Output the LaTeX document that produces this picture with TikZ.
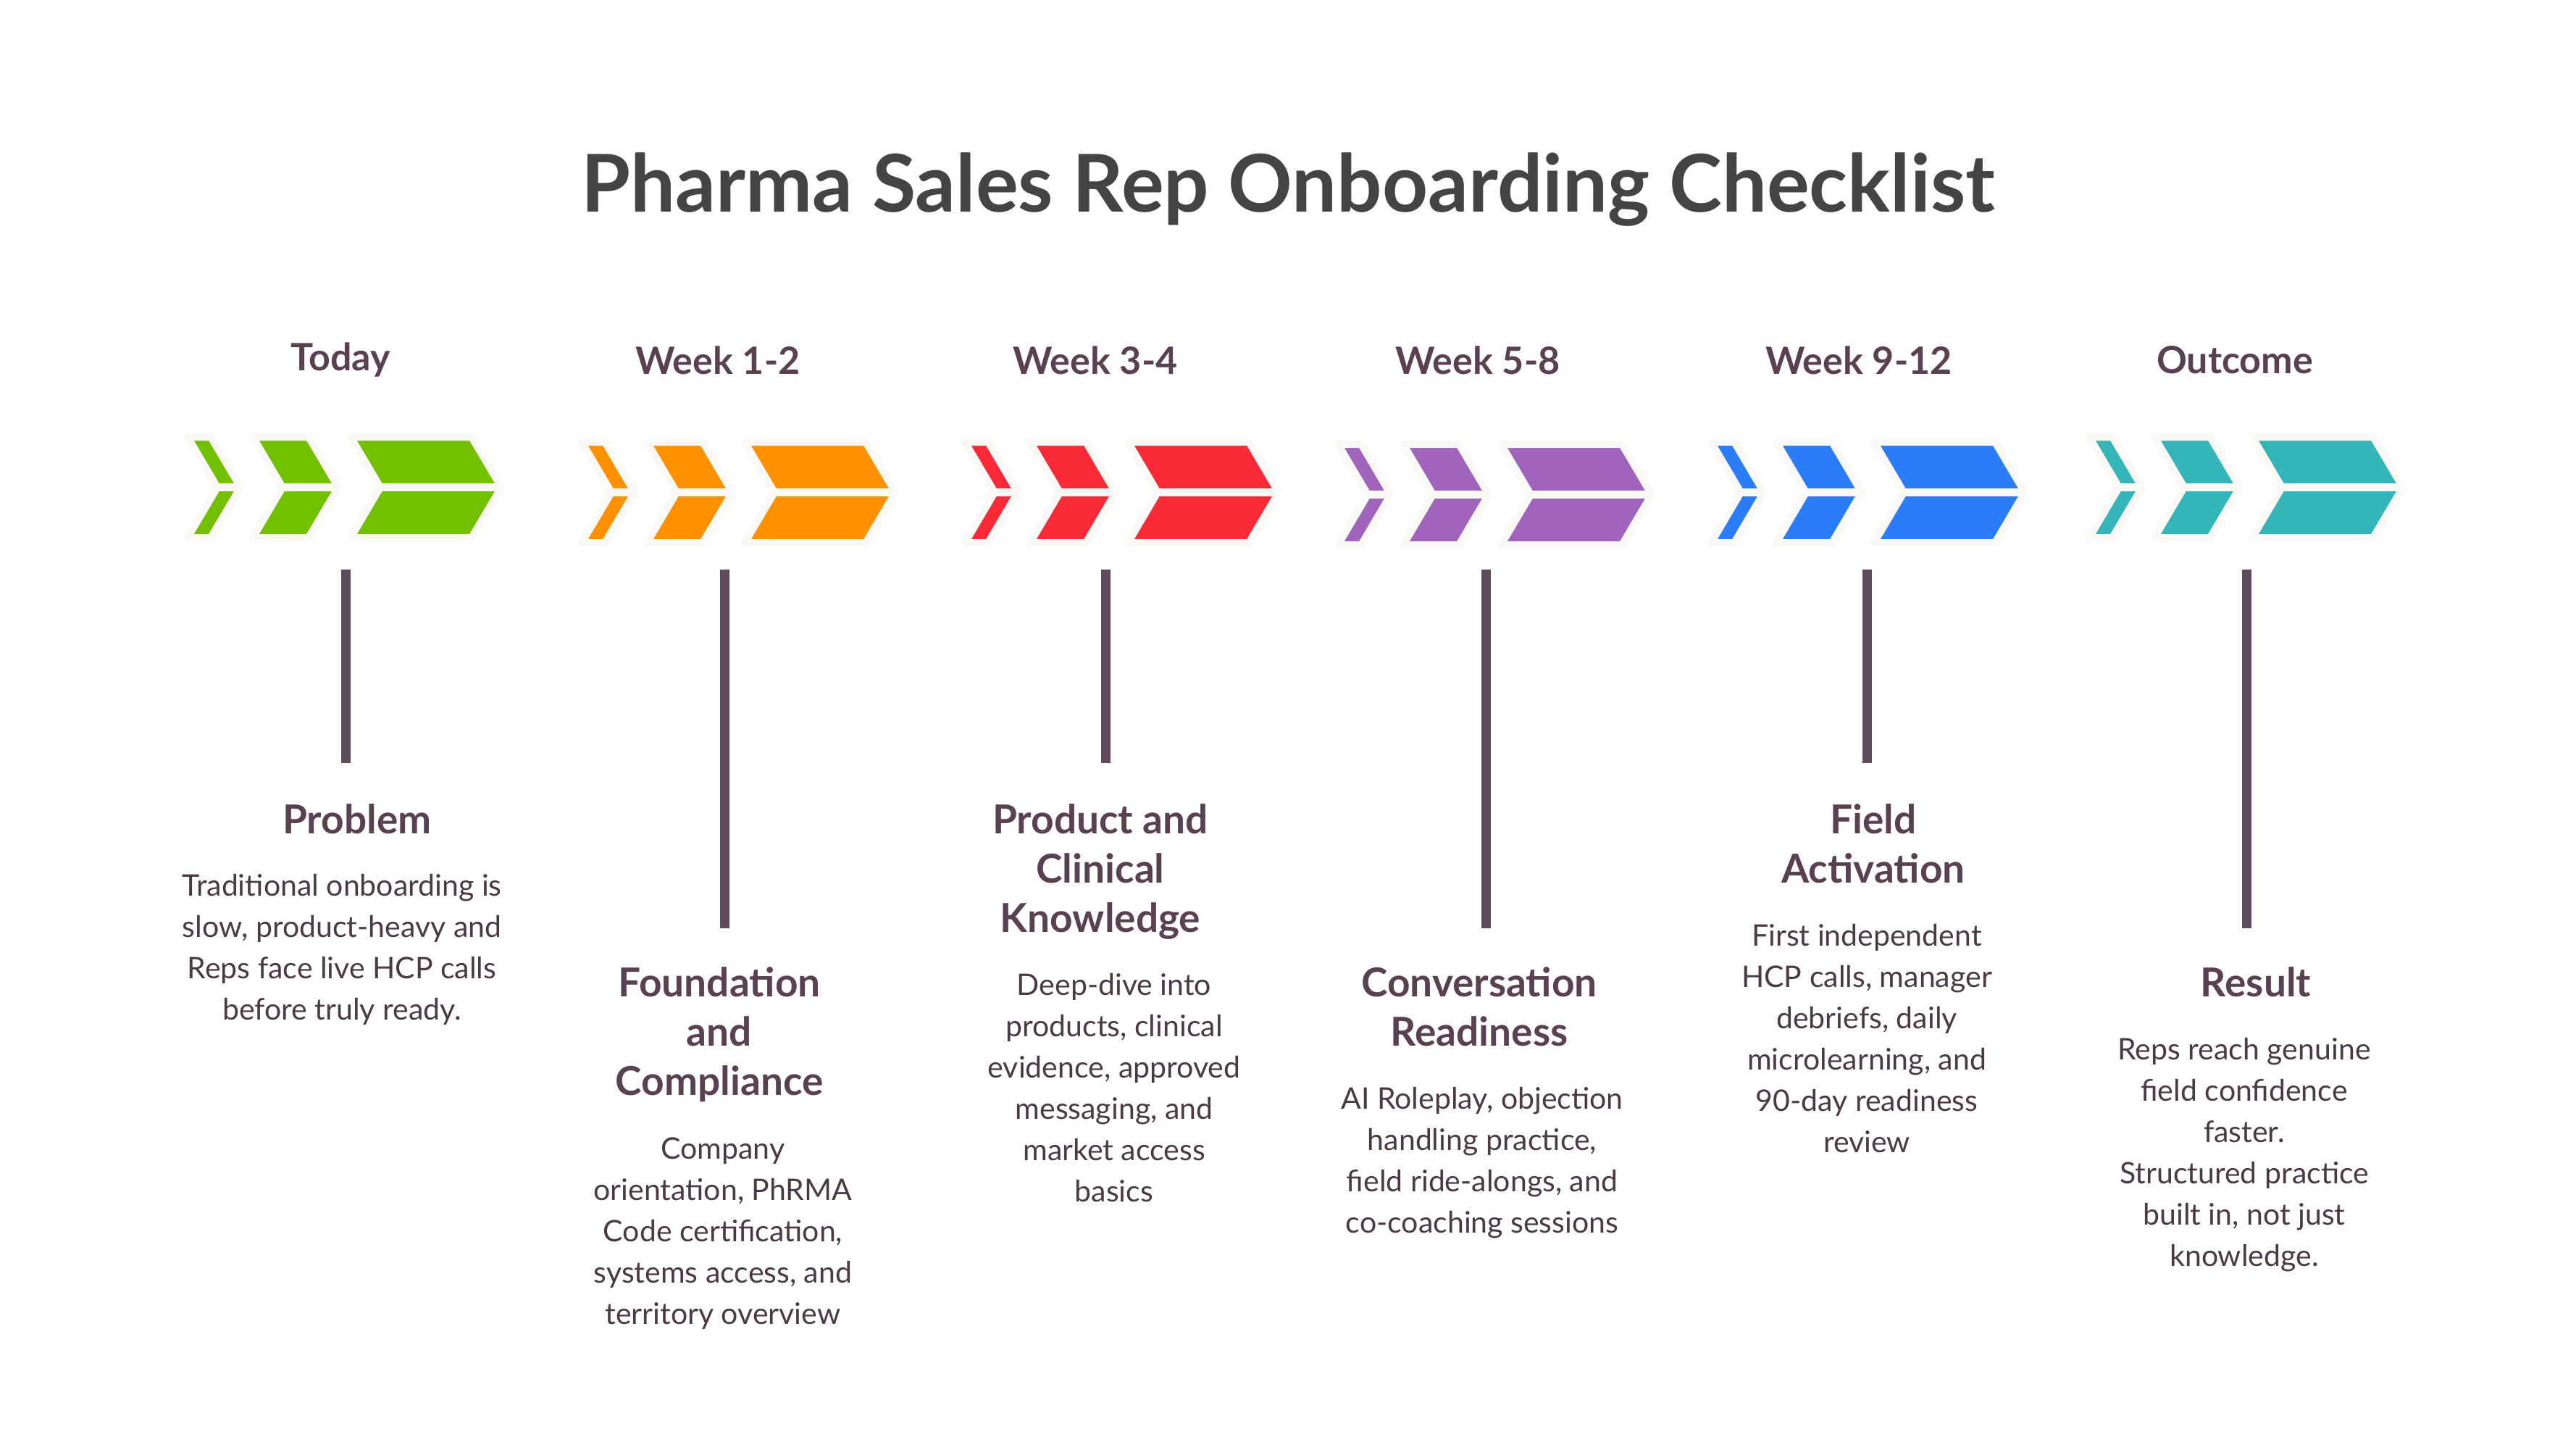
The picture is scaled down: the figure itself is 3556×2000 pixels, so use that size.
\documentclass[tikz,border=0pt]{standalone}
\usepackage{fontspec}
\setmainfont{Lato}
\begin{document}
\definecolor{offw}{HTML}{FAF9F6}
\definecolor{cgreen}{HTML}{72C000}
\definecolor{corange}{HTML}{FF9100}
\definecolor{cred}{HTML}{F92937}
\definecolor{cpurple}{HTML}{A064BC}
\definecolor{cblue}{HTML}{2A7DF6}
\definecolor{cteal}{HTML}{34B5B8}
\definecolor{ctitle}{HTML}{444444}
\definecolor{chead}{HTML}{5A4152}
\definecolor{cbody}{HTML}{4A3A46}
\definecolor{cstem}{HTML}{5E4B5C}
\newcommand\OneChev[3]{%
  \filldraw[fill=#3, draw=offw, line width=10pt, line join=round] (#1,0) -- ++(#2,0) -- ++(41,69.5) -- ++(-41,69.5) -- ++(-#2,0) -- ++(41,-69.5) -- cycle;
  \draw[offw, line width=11pt] (#1+41,69.5) -- (#1+#2+41,69.5);}
\newcommand\ChevGroup[3]{%
  \begin{scope}[shift={(#1,#2)}]
    \OneChev{0}{32}{#3}\OneChev{90}{77}{#3}\OneChev{225}{167}{#3}
  \end{scope}}
\begin{tikzpicture}[x=1pt,y=-1pt,
  title/.style={font=\fontsize{110}{120}\selectfont\bfseries, text=ctitle},
  hdr/.style={font=\fontsize{52}{60}\selectfont\bfseries, text=chead},
  sub/.style={font=\fontsize{55}{68}\selectfont\bfseries, text=chead, align=center, anchor=north},
  body/.style={font=\fontsize{41}{57}\selectfont, text=cbody, align=center, anchor=north},
  stem/.style={cstem, line width=13pt}]
\useasboundingbox[fill=white] (0,0) rectangle (3556,2000);
\node[title] (title) at (1778,262) {Pharma Sales Rep Onboarding Checklist};
\node[hdr] (h1) at (470,497) {Today};
\node[hdr] (h2) at (991,497) {Week 1-2};
\node[hdr] (h3) at (1512,497) {Week 3-4};
\node[hdr] (h4) at (2040,497) {Week 5-8};
\node[hdr] (h5) at (2566,497) {Week 9-12};
\node[hdr] (h6) at (3085,497) {Outcome};
\ChevGroup{259}{603}{cgreen}
\ChevGroup{803}{610}{corange}
\ChevGroup{1332}{610}{cred}
\ChevGroup{1847}{613}{cpurple}
\ChevGroup{2362}{610}{cblue}
\ChevGroup{2884}{603}{cteal}
\coordinate (s1a) at (477,786); \coordinate (s1b) at (477,1053);
\coordinate (s2a) at (1000,786); \coordinate (s2b) at (1000,1281);
\coordinate (s3a) at (1526,786); \coordinate (s3b) at (1526,1053);
\coordinate (s4a) at (2051,786); \coordinate (s4b) at (2051,1281);
\coordinate (s5a) at (2577,786); \coordinate (s5b) at (2577,1053);
\coordinate (s6a) at (3101,786); \coordinate (s6b) at (3101,1281);
\foreach \i in {1,...,6} \draw[stem] (s\i a) -- (s\i b);
\node[sub] (t1) at (493,1106) {Problem};
\node[body] (b1) at (472,1203) {Traditional onboarding is\\slow, product-heavy and\\Reps face live HCP calls\\before truly ready.};
\node[sub] (t2) at (993,1331) {Foundation\\and\\Compliance};
\node[body] (b2) at (998,1566) {Company\\orientation, PhRMA\\Code certification,\\systems access, and\\territory overview};
\node[sub] (t3) at (1519,1106) {Product and\\Clinical\\Knowledge};
\node[body] (b3) at (1538,1340) {Deep-dive into\\products, clinical\\evidence, approved\\messaging, and\\market access\\basics};
\node[sub] (t4) at (2042,1331) {Conversation\\Readiness};
\node[body] (b4) at (2046,1497) {AI Roleplay, objection\\handling practice,\\field ride-alongs, and\\co-coaching sessions};
\node[sub] (t5) at (2586,1106) {Field\\Activation};
\node[body] (b5) at (2577,1272) {First independent\\HCP calls, manager\\debriefs, daily\\microlearning, and\\90-day readiness\\review};
\node[sub] (t6) at (3114,1331) {Result};
\node[body] (b6) at (3098,1429) {Reps reach genuine\\field confidence\\faster.\\Structured practice\\built in, not just\\knowledge.};
\end{tikzpicture}
\end{document}
